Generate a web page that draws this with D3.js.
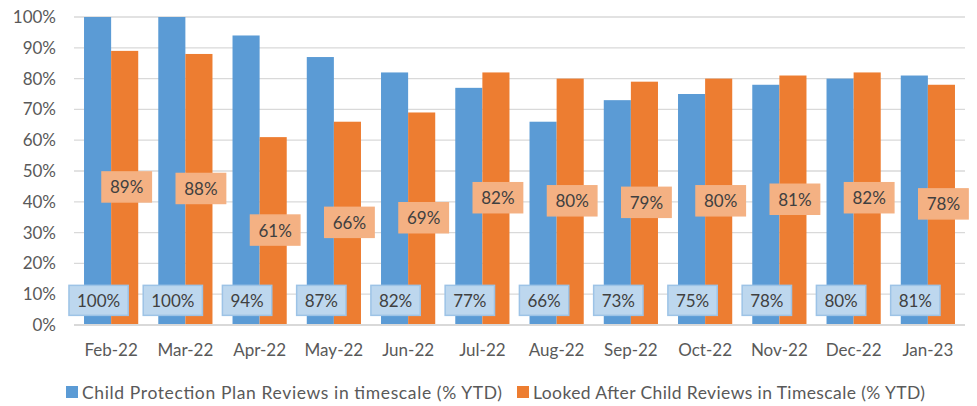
<!DOCTYPE html>
<html>
<head>
<meta charset="utf-8">
<script src="https://cdn.jsdelivr.net/npm/d3@7"></script>
<style>
  html, body { margin: 0; padding: 0; background: #fff; }
  svg { display: block; font-family: Lato, "Open Sans", "Liberation Sans", sans-serif; }
</style>
</head>
<body>
<svg id="chart" width="977" height="406"></svg>
<script>
const months = ["Feb-22","Mar-22","Apr-22","May-22","Jun-22","Jul-22","Aug-22","Sep-22","Oct-22","Nov-22","Dec-22","Jan-23"];
const cppReviews = [100,100,94,87,82,77,66,73,75,78,80,81];
const lacReviews = [89,88,61,66,69,82,80,79,80,81,82,78];
const yTicks = [0,10,20,30,40,50,60,70,80,90,100];
const seriesNames = ["Child Protection Plan Reviews in timescale (% YTD)", "Looked After Child Reviews in Timescale (% YTD)"];

const svg = d3.select("#chart");
const margin = {left: 74, right: 12, top: 17, bottom: 81};
const W = 977, H = 406;
const innerW = W - margin.left - margin.right;
const innerH = H - margin.top - margin.bottom;

const g = svg.append("g").attr("transform", `translate(${margin.left},${margin.top})`);

const x = d3.scaleBand().domain(months).range([0, innerW]).paddingInner(0.27).paddingOuter(0.135);
const x1 = d3.scaleBand().domain([0,1]).range([0, x.bandwidth()]);
const y = d3.scaleLinear().domain([0,100]).range([innerH, 0]);

// gridlines
g.append("g").selectAll("line").data(yTicks).join("line")
  .attr("x1", 0).attr("x2", innerW)
  .attr("y1", d => y(d)).attr("y2", d => y(d))
  .attr("stroke", "#d9d9d9").attr("stroke-width", 1.3);

// y axis labels
const yAxis = g.append("g").call(d3.axisLeft(y).tickValues(yTicks).tickFormat(d => d + "%").tickSize(0).tickPadding(18));
yAxis.select(".domain").remove();
yAxis.selectAll("text").attr("fill", "#595959").style("font-size", "17px").style("font-family", "Lato, 'Open Sans', sans-serif");

const colors = ["#5B9BD5", "#ED7D31"];
const data = months.map((m, i) => ({m, vals: [cppReviews[i], lacReviews[i]]}));

const groups = g.append("g").selectAll("g").data(data).join("g")
  .attr("transform", d => `translate(${x(d.m)},0)`);

groups.selectAll("rect").data(d => d.vals.map((v, k) => ({v, k}))).join("rect")
  .attr("x", d => x1(d.k)).attr("width", x1.bandwidth())
  .attr("y", d => y(d.v)).attr("height", d => innerH - y(d.v))
  .attr("fill", d => colors[d.k]);

// baseline
g.append("line").attr("x1", 0).attr("x2", innerW).attr("y1", innerH).attr("y2", innerH)
  .attr("stroke", "#d9d9d9").attr("stroke-width", 2);

// x axis labels
const xAxis = g.append("g").attr("transform", `translate(0,${innerH})`)
  .call(d3.axisBottom(x).tickSize(0).tickPadding(19));
xAxis.select(".domain").remove();
xAxis.selectAll("text").attr("fill", "#595959").style("font-size", "17px").style("font-family", "Lato, 'Open Sans', sans-serif");

// data labels
function addLabel(sel, text, cx, cy, fill, stroke) {
  const lg = sel.append("g");
  const t = lg.append("text").attr("x", cx).attr("y", cy).attr("text-anchor", "middle")
    .attr("dominant-baseline", "central").attr("fill", "#404040").style("font-size", "17px").text(text);
  const bb = t.node().getBBox();
  lg.insert("rect", "text")
    .attr("x", cx - bb.width / 2 - 8).attr("y", cy - 15)
    .attr("width", bb.width + 16).attr("height", 30)
    .attr("fill", fill).attr("stroke", stroke).attr("stroke-width", 1.5);
}
const labels = g.append("g");
data.forEach(d => {
  const bx = x(d.m);
  // blue labels sit near the base of the bar
  addLabel(labels, d.vals[0] + "%", bx + x1(0) + x1.bandwidth() / 2 + 1, y(8), "#BDD7EE", "#9DC3E6");
  // orange labels sit at the middle of the bar
  addLabel(labels, d.vals[1] + "%", bx + x1(1) + x1.bandwidth() / 2 + 2, y(d.vals[1] / 2) - 1, "#F4B183", "#F4B183");
});

// legend
const legend = svg.append("g").attr("transform", "translate(66,392)");
const legendX = [0, 451];
const legendLen = [420, 392];
seriesNames.forEach((name, i) => {
  const lg = legend.append("g").attr("transform", `translate(${legendX[i]},0)`);
  lg.append("rect").attr("x", 0).attr("y", -6).attr("width", 12).attr("height", 12).attr("fill", colors[i]);
  lg.append("text").attr("x", 16).attr("y", 0).attr("dominant-baseline", "central")
    .attr("textLength", legendLen[i]).attr("lengthAdjust", "spacing")
    .attr("fill", "#595959").style("font-size", "17.5px").text(name);
});
</script>
</body>
</html>
